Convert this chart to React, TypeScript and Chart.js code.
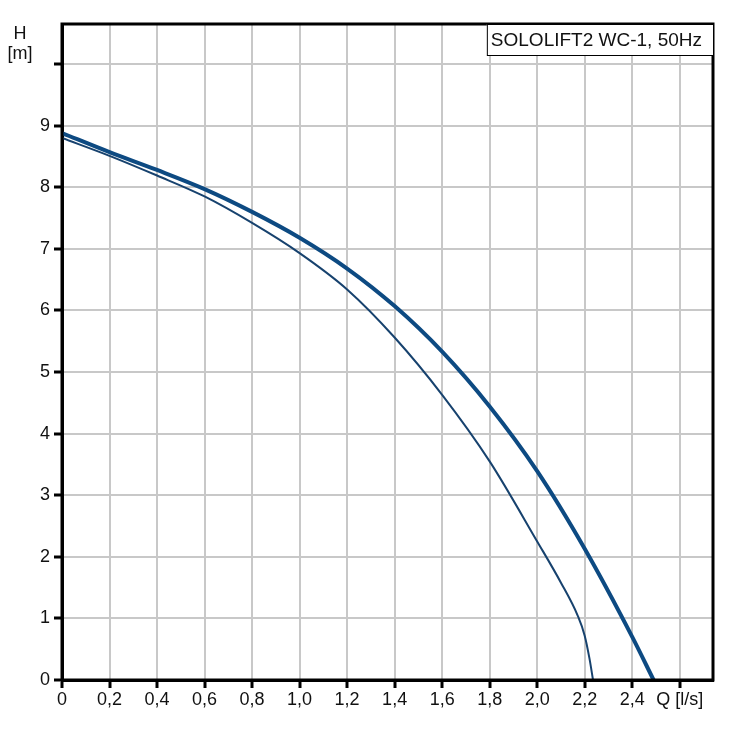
import React, { useRef, useEffect } from 'react';
import { Chart, registerables } from 'chart.js';

Chart.register(...registerables);

// Q [l/s] / H [m]
const qTicks = [0, 0.2, 0.4, 0.6, 0.8, 1.0, 1.2, 1.4, 1.6, 1.8, 2.0, 2.2, 2.4, 2.6];
const qLabels = ['0', '0,2', '0,4', '0,6', '0,8', '1,0', '1,2', '1,4', '1,6', '1,8', '2,0', '2,2', '2,4', 'Q [l/s]'];
const hTicks = [0, 1, 2, 3, 4, 5, 6, 7, 8, 9, 10];
const hLabels = ['0', '1', '2', '3', '4', '5', '6', '7', '8', '9', ''];

const thickQ = [0, 0.2, 0.4, 0.6, 0.8, 1.0, 1.2, 1.4, 1.6, 1.8, 2.0, 2.2, 2.4, 2.49];
const thickH = [8.88, 8.57, 8.28, 7.97, 7.6, 7.18, 6.68, 6.07, 5.33, 4.44, 3.39, 2.13, 0.7, 0];

const thinQ = [0, 0.2, 0.4, 0.6, 0.8, 1.0, 1.2, 1.4, 1.6, 1.8, 2.0, 2.1, 2.17, 2.2, 2.22, 2.235];
const thinH = [8.8, 8.51, 8.19, 7.85, 7.42, 6.93, 6.34, 5.56, 4.63, 3.55, 2.25, 1.58, 1.05, 0.72, 0.35, 0];

const TITLE = 'SOLOLIFT2 WC-1, 50Hz';
const FONT = '"Liberation Sans", Arial, sans-serif';
const INK = '#111';

const pts = (xs: number[], ys: number[]) => xs.map((x, i) => ({ x, y: ys[i] }));

export default function App() {
  const ref = useRef<HTMLCanvasElement>(null);
  const chartRef = useRef<Chart | null>(null);

  useEffect(() => {
    document.body.style.margin = '0';
    const canvas = ref.current;
    if (!canvas) return;
    chartRef.current?.destroy();

    chartRef.current = new Chart(canvas, {
      type: 'line',
      data: {
        datasets: [
          {
            data: pts(thickQ, thickH),
            borderColor: '#0d4a82',
            borderWidth: 4,
            pointRadius: 0,
            cubicInterpolationMode: 'monotone',
          },
          {
            data: pts(thinQ, thinH),
            borderColor: '#17426e',
            borderWidth: 2,
            pointRadius: 0,
            cubicInterpolationMode: 'monotone',
          },
        ],
      },
      options: {
        responsive: false,
        animation: false,
        layout: { padding: { top: 24, right: 16, left: 0, bottom: 0 } },
        plugins: {
          legend: { display: false },
          tooltip: { enabled: false },
        },
        scales: {
          x: {
            type: 'linear',
            min: 0,
            max: 2.74,
            afterBuildTicks: (s: any) => { s.ticks = qTicks.map(v => ({ value: v })); },
            afterFit: (s: any) => { s.height = 49; },
            ticks: {
              autoSkip: false,
              maxRotation: 0,
              padding: 1,
              color: INK,
              font: { family: FONT, size: 18 },
              callback: (_v: any, i: number) => qLabels[i],
            },
            grid: { color: '#c8c8c8', lineWidth: 2, tickColor: '#000', tickWidth: 3, tickLength: 8 },
            border: { display: true, color: '#000', width: 3 },
          },
          y: {
            type: 'linear',
            min: 0,
            max: 10.65,
            afterBuildTicks: (s: any) => { s.ticks = hTicks.map(v => ({ value: v })); },
            afterFit: (s: any) => { s.width = 62; },
            ticks: {
              autoSkip: false,
              padding: 4,
              color: INK,
              font: { family: FONT, size: 18 },
              callback: (_v: any, i: number) => hLabels[i],
            },
            grid: { color: '#c8c8c8', lineWidth: 2, tickColor: '#000', tickWidth: 3, tickLength: 8 },
            border: { display: true, color: '#000', width: 3 },
          },
        },
      },
      plugins: [{
        id: 'frame',
        afterDraw(chart) {
          const { ctx, chartArea: a } = chart;
          ctx.save();
          // outer frame
          ctx.strokeStyle = '#000';
          ctx.lineWidth = 3;
          ctx.strokeRect(a.left, a.top, a.right - a.left, a.bottom - a.top);
          // title box, top right
          ctx.font = `19px ${FONT}`;
          const w = ctx.measureText(TITLE).width + 15;
          const bx = a.right - w, by = a.top, bh = 31;
          ctx.fillStyle = '#fff';
          ctx.fillRect(bx, by, w, bh);
          ctx.lineWidth = 1;
          ctx.strokeRect(bx + 0.5, by + 0.5, w, bh);
          ctx.fillStyle = INK;
          ctx.textBaseline = 'middle';
          ctx.textAlign = 'left';
          ctx.fillText(TITLE, bx + 4, by + bh / 2 + 1);
          // axis name
          ctx.font = `18px ${FONT}`;
          ctx.textAlign = 'center';
          ctx.fillText('H', 20, 34);
          ctx.fillText('[m]', 20, 54);
          ctx.restore();
        },
      }],
    });

    return () => { chartRef.current?.destroy(); };
  }, []);

  return (
    <div style={{ position: 'absolute', left: 0, top: 0, width: 729, height: 729, background: '#fff' }}>
      <canvas ref={ref} width={729} height={729} style={{ display: 'block' }} />
    </div>
  );
}
